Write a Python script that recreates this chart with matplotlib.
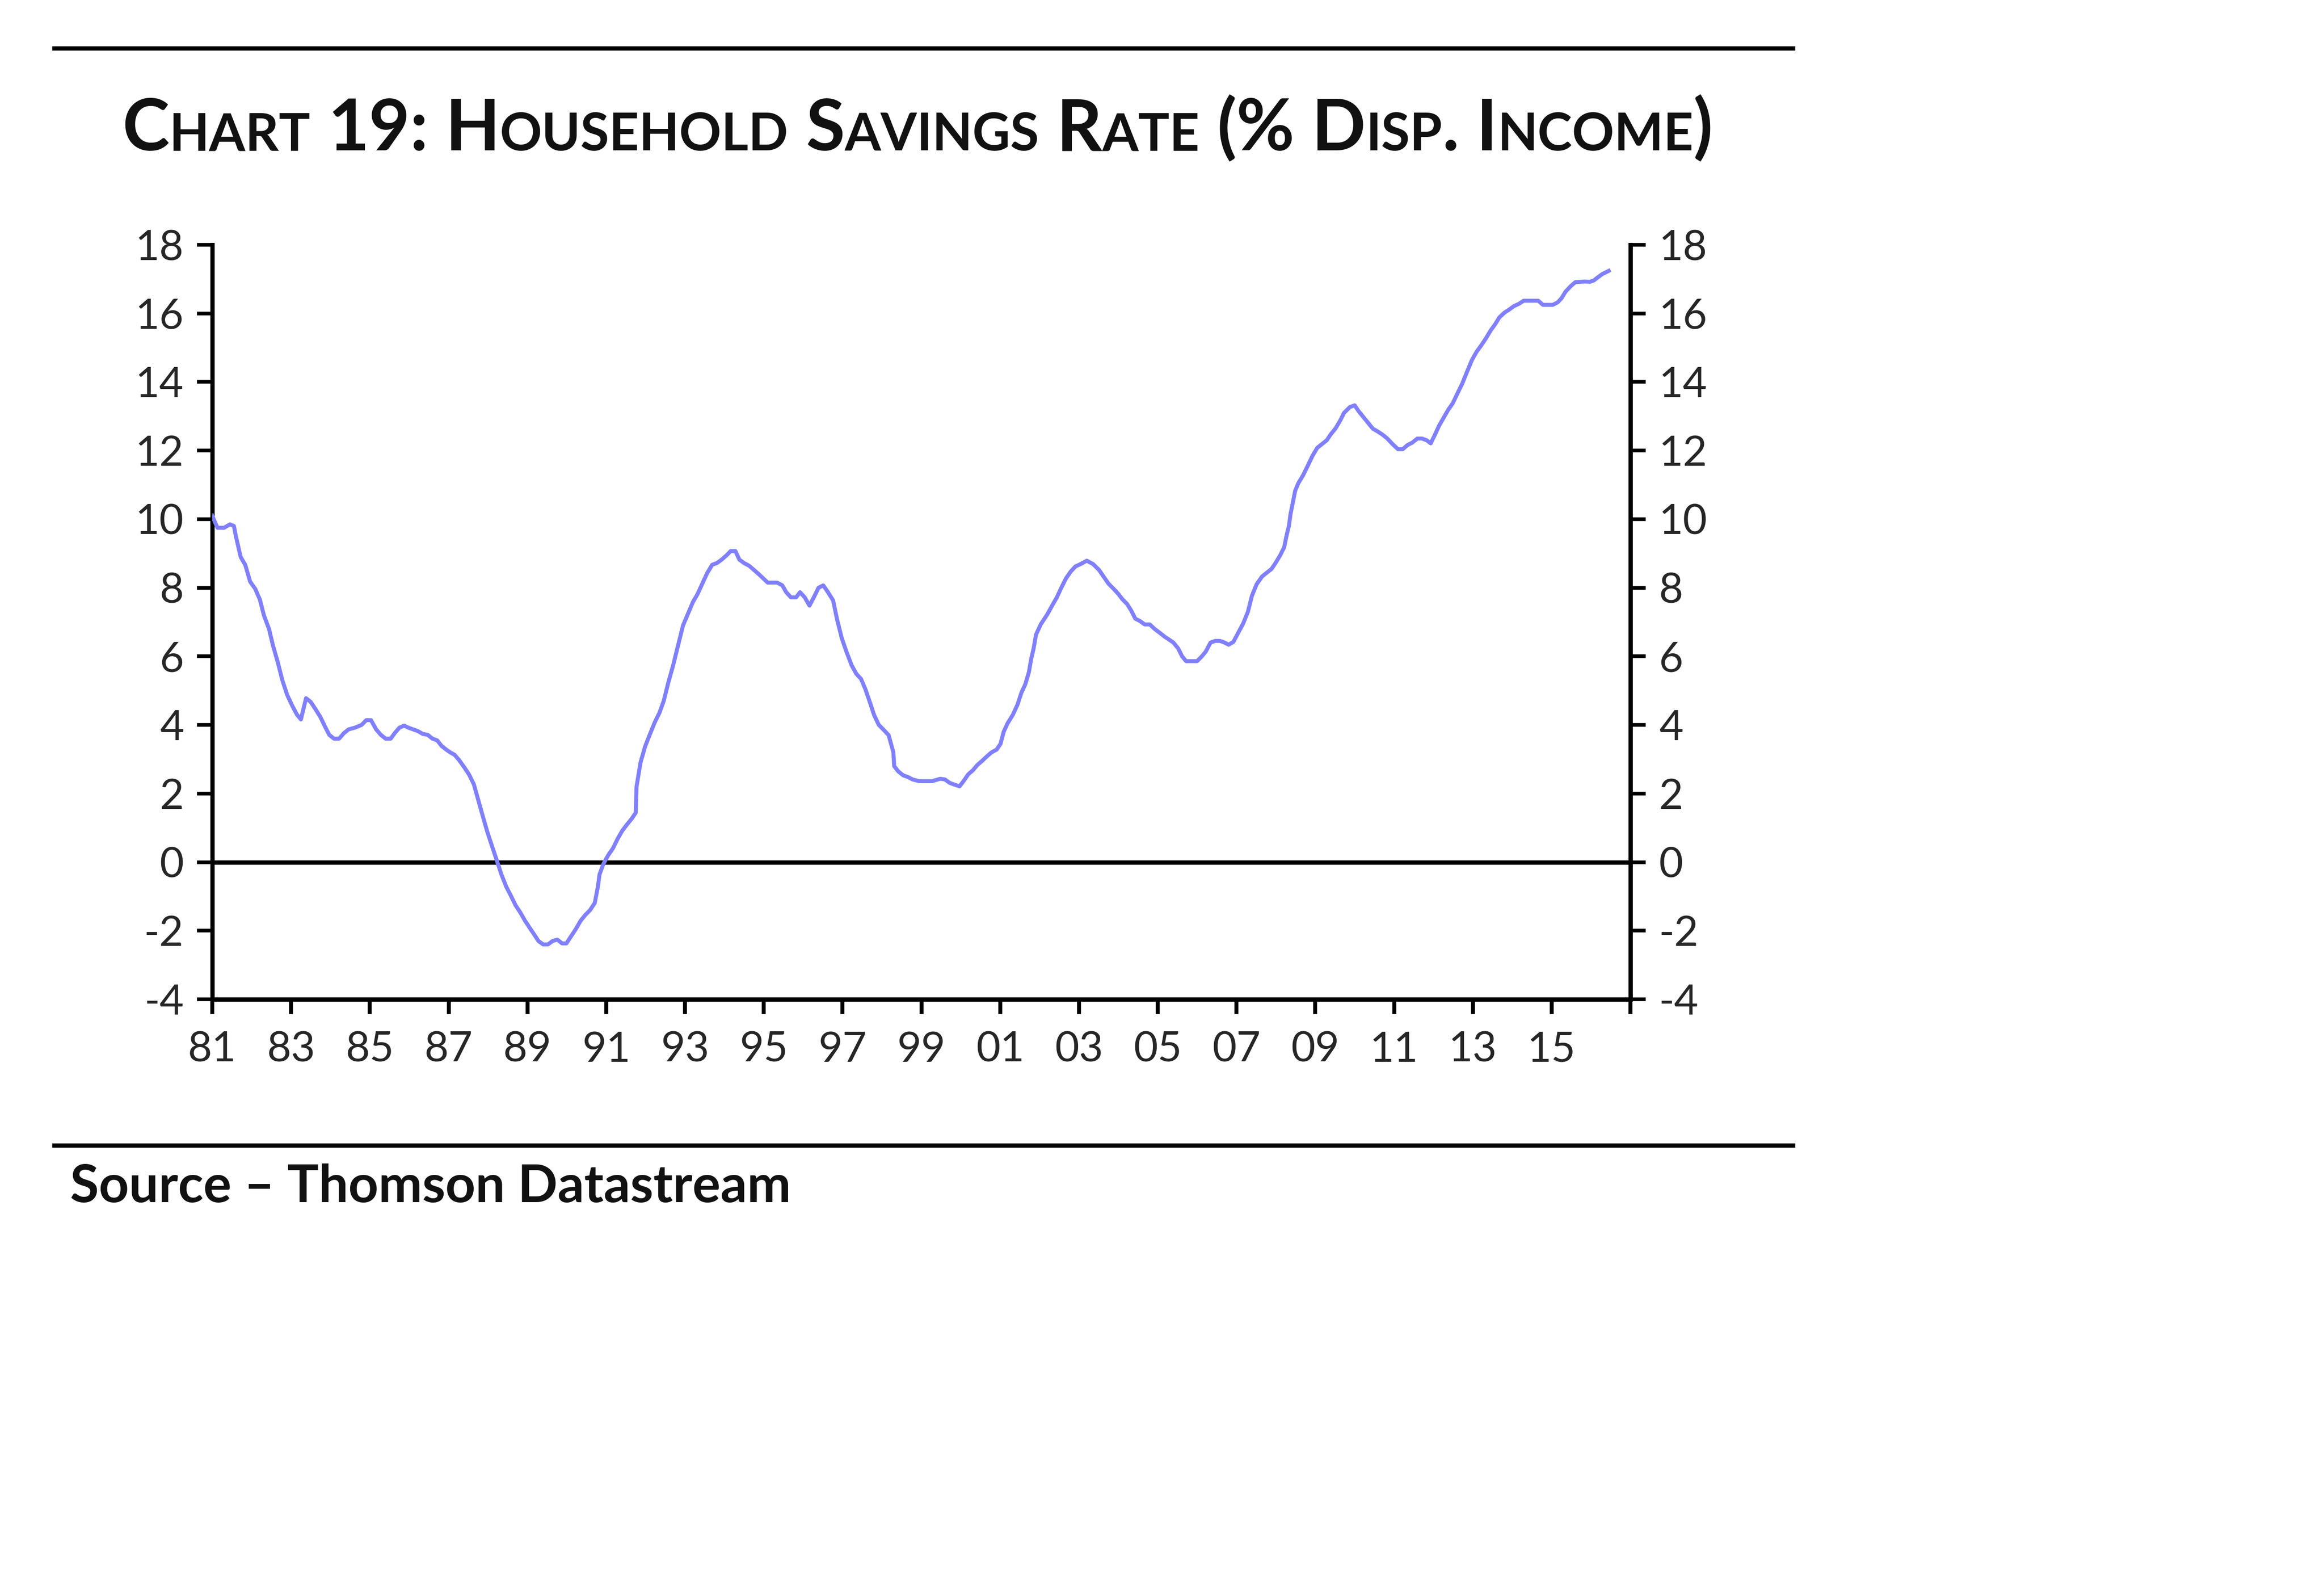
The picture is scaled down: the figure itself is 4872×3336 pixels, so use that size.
import matplotlib
matplotlib.use("Agg")
import matplotlib.pyplot as plt
from matplotlib import font_manager
from matplotlib.lines import Line2D

# ---------------- data ----------------
years = [1981.00, 1981.13, 1981.30, 1981.45, 1981.55, 1981.60, 1981.72, 1981.84, 1981.96,
         1982.09, 1982.21, 1982.31, 1982.44, 1982.54, 1982.66, 1982.78, 1982.90,
         1983.03, 1983.15, 1983.25, 1983.38, 1983.50, 1983.62, 1983.74, 1983.85, 1983.97,
         1984.09, 1984.22, 1984.34, 1984.46, 1984.62, 1984.79, 1984.91,
         1985.03, 1985.16, 1985.28, 1985.40, 1985.53, 1985.63, 1985.75, 1985.87, 1985.98,
         1986.10, 1986.22, 1986.34, 1986.47, 1986.59, 1986.71, 1986.82, 1986.94,
         1987.04, 1987.15, 1987.27, 1987.40, 1987.52, 1987.64, 1987.74, 1987.86, 1987.98,
         1988.10, 1988.22, 1988.34, 1988.46, 1988.58, 1988.70, 1988.82, 1988.94,
         1989.06, 1989.16, 1989.28, 1989.40, 1989.52, 1989.64, 1989.76, 1989.88, 1989.99,
         1990.11, 1990.23, 1990.35, 1990.47, 1990.59, 1990.71, 1990.79, 1990.83, 1990.93,
         1991.05, 1991.17, 1991.29, 1991.41, 1991.53, 1991.65, 1991.75, 1991.77, 1991.87, 1991.99,
         1992.11, 1992.23, 1992.35, 1992.46, 1992.58, 1992.70, 1992.82, 1992.95,
         1993.09, 1993.20, 1993.32, 1993.44, 1993.56, 1993.69, 1993.81, 1993.93,
         1994.05, 1994.16, 1994.28, 1994.38, 1994.50, 1994.63, 1994.75, 1994.87, 1994.99,
         1995.10, 1995.22, 1995.34, 1995.47, 1995.57, 1995.69, 1995.82, 1995.92,
         1996.04, 1996.16, 1996.27, 1996.39, 1996.51, 1996.63, 1996.76, 1996.86, 1996.98,
         1997.10, 1997.23, 1997.35, 1997.47, 1997.58, 1997.70, 1997.80, 1997.92,
         1998.05, 1998.17, 1998.29, 1998.31, 1998.41, 1998.54, 1998.66, 1998.78, 1998.95,
         1999.07, 1999.27, 1999.48, 1999.60, 1999.72, 1999.84, 1999.97,
         2000.07, 2000.19, 2000.31, 2000.42, 2000.54, 2000.66, 2000.78, 2000.91,
         2001.01, 2001.09, 2001.19, 2001.32, 2001.44, 2001.54, 2001.64, 2001.73, 2001.79,
         2001.85, 2001.91, 2002.03, 2002.20, 2002.32, 2002.44, 2002.54, 2002.67, 2002.79, 2002.91,
         2003.04, 2003.20, 2003.36, 2003.51, 2003.63, 2003.75, 2003.88,
         2004.00, 2004.10, 2004.22, 2004.33, 2004.43, 2004.55, 2004.67, 2004.80, 2004.92,
         2005.06, 2005.18, 2005.30, 2005.40, 2005.52, 2005.62, 2005.72, 2005.88,
         2006.00, 2006.12, 2006.22, 2006.34, 2006.46, 2006.58, 2006.70, 2006.80, 2006.92,
         2007.04, 2007.17, 2007.29, 2007.39, 2007.51, 2007.65, 2007.77, 2007.89, 2007.99,
         2008.11, 2008.21, 2008.27, 2008.33, 2008.37, 2008.43, 2008.49, 2008.57, 2008.69,
         2008.81, 2008.93, 2009.05, 2009.17, 2009.29, 2009.39, 2009.51, 2009.63, 2009.73, 2009.88,
         2010.00, 2010.10, 2010.22, 2010.34, 2010.46, 2010.58, 2010.70, 2010.82, 2010.97,
         2011.10, 2011.22, 2011.34, 2011.46, 2011.59, 2011.71, 2011.83, 2011.93,
         2012.04, 2012.14, 2012.26, 2012.38, 2012.49, 2012.61, 2012.73, 2012.86, 2012.98,
         2013.10, 2013.22, 2013.33, 2013.45, 2013.57, 2013.67, 2013.80, 2013.92,
         2014.04, 2014.17, 2014.29, 2014.53, 2014.66, 2014.78,
         2015.03, 2015.15, 2015.25, 2015.35, 2015.48, 2015.60, 2015.84, 2015.97,
         2016.07, 2016.17, 2016.29, 2016.45]

savings_rate = [10.10, 9.75, 9.75, 9.85, 9.80, 9.50, 8.90, 8.66, 8.18,
                7.97, 7.65, 7.20, 6.80, 6.32, 5.84, 5.30, 4.88,
                4.56, 4.30, 4.16, 4.78, 4.67, 4.46, 4.24, 3.98, 3.71,
                3.60, 3.60, 3.76, 3.87, 3.92, 4.00, 4.14,
                4.14, 3.87, 3.71, 3.60, 3.60, 3.76, 3.92, 3.98, 3.92,
                3.87, 3.82, 3.74, 3.71, 3.60, 3.55, 3.39, 3.28,
                3.20, 3.13, 2.97, 2.76, 2.55, 2.27, 1.86, 1.37, 0.89,
                0.47, 0.06, -0.36, -0.71, -0.98, -1.26, -1.47, -1.71,
                -1.92, -2.09, -2.30, -2.40, -2.40, -2.30, -2.26, -2.37, -2.37,
                -2.16, -1.95, -1.71, -1.54, -1.40, -1.19, -0.71, -0.36, -0.05,
                0.20, 0.40, 0.68, 0.92, 1.10, 1.27, 1.44, 2.20, 2.90, 3.38,
                3.73, 4.07, 4.35, 4.70, 5.25, 5.74, 6.30, 6.90,
                7.28, 7.58, 7.82, 8.12, 8.42, 8.67, 8.72, 8.82,
                8.94, 9.07, 9.07, 8.82, 8.72, 8.64, 8.52, 8.40, 8.27,
                8.15, 8.15, 8.15, 8.07, 7.87, 7.72, 7.72, 7.87,
                7.72, 7.48, 7.72, 8.00, 8.07, 7.87, 7.63, 7.08, 6.53,
                6.13, 5.74, 5.49, 5.34, 5.04, 4.64, 4.29, 4.00,
                3.85, 3.70, 3.20, 2.80, 2.65, 2.53, 2.48, 2.41, 2.36,
                2.36, 2.36, 2.43, 2.41, 2.31, 2.26, 2.21,
                2.36, 2.56, 2.68, 2.83, 2.95, 3.08, 3.20, 3.28,
                3.45, 3.80, 4.05, 4.29, 4.59, 4.94, 5.19, 5.54, 5.93,
                6.23, 6.63, 6.93, 7.23, 7.48, 7.72, 7.97, 8.27, 8.47, 8.62,
                8.69, 8.79, 8.69, 8.52, 8.32, 8.12, 7.97,
                7.82, 7.67, 7.53, 7.33, 7.10, 7.03, 6.93, 6.93, 6.80,
                6.68, 6.57, 6.48, 6.40, 6.23, 6.00, 5.86, 5.86,
                5.86, 6.00, 6.14, 6.40, 6.45, 6.45, 6.40, 6.34, 6.42,
                6.68, 6.96, 7.30, 7.76, 8.10, 8.33, 8.44, 8.55, 8.72,
                8.95, 9.18, 9.52, 9.80, 10.14, 10.48, 10.83, 11.05, 11.28,
                11.56, 11.85, 12.08, 12.19, 12.30, 12.47, 12.64, 12.87, 13.10, 13.27,
                13.32, 13.15, 12.98, 12.81, 12.64, 12.56, 12.47, 12.36, 12.18,
                12.04, 12.04, 12.16, 12.23, 12.35, 12.35, 12.30, 12.21,
                12.47, 12.72, 12.96, 13.20, 13.38, 13.67, 13.95, 14.32, 14.65,
                14.89, 15.08, 15.27, 15.50, 15.69, 15.88, 16.02, 16.11,
                16.21, 16.28, 16.37, 16.37, 16.37, 16.25,
                16.25, 16.32, 16.44, 16.63, 16.79, 16.91, 16.93, 16.92,
                16.96, 17.05, 17.15, 17.24]

y_ticks = [-4, -2, 0, 2, 4, 6, 8, 10, 12, 14, 16, 18]
x_ticks = [1981, 1983, 1985, 1987, 1989, 1991, 1993, 1995, 1997, 1999,
           2001, 2003, 2005, 2007, 2009, 2011, 2013, 2015, 2017]
x_tick_labels = ["81", "83", "85", "87", "89", "91", "93", "95", "97", "99",
                 "01", "03", "05", "07", "09", "11", "13", "15", ""]

title_text = "Chart 19: Household Savings Rate (% Disp. Income)"
source_text = "Source \u2013 Thomson Datastream"

# ---------------- styling ----------------
avail = {f.name for f in font_manager.fontManager.ttflist}
FONT = "Lato" if "Lato" in avail else "DejaVu Sans"
plt.rcParams["font.family"] = [FONT, "DejaVu Sans"]

W, H = 4872, 3336
fig = plt.figure(figsize=(W / 100, H / 100), dpi=100)
fig.patch.set_facecolor("white")

ax = fig.add_axes([445 / W, 1 - 2094 / H, (3418 - 445) / W, (2094 - 513) / H])
ax.plot(years, savings_rate, color="#8080ff", lw=6, solid_joinstyle="round", zorder=3)
ax.axhline(0, color="black", lw=6.5, zorder=2)

ax.set_xlim(1981, 2017)
ax.set_ylim(-4, 18)
ax.set_xticks(x_ticks)
ax.set_xticklabels(x_tick_labels)
ax.set_yticks(y_ticks)
ax.set_yticklabels([str(v) for v in y_ticks])

for side in ["left", "right", "bottom"]:
    ax.spines[side].set_linewidth(6.5)
    ax.spines[side].set_color("black")
ax.spines["top"].set_visible(False)

label_color = "#262626"
ax.tick_params(axis="y", which="major", direction="out", length=23, width=5.5,
               left=True, right=True, labelleft=True, labelright=True,
               labelsize=63, labelcolor=label_color, pad=20)
ax.tick_params(axis="x", direction="out", length=22, width=6, labelsize=63,
               labelcolor=label_color, pad=26)
ax.set_facecolor("white")

# ---------------- rules ----------------
for yy in (101, 2400):
    fig.add_artist(Line2D([109 / W, 3763 / W], [1 - yy / H, 1 - yy / H],
                          color="black", lw=6.5, solid_capstyle="butt"))

# ---------------- small-caps title ----------------
renderer = fig.canvas.get_renderer()


def measure(s, size):
    t = fig.text(0, 0, s, fontsize=size, fontweight="bold")
    w = t.get_window_extent(renderer).width
    t.remove()
    return w


def runs_of(word):
    out = []
    for ch in word:
        big = not ch.islower()
        if out and out[-1][1] == big:
            out[-1][0] += ch
        else:
            out.append([ch, big])
    return out


def layout_title(text, big, small, x0, y0, draw):
    x = x0
    space = measure("H H", big) - measure("HH", big)
    words = text.split(" ")
    for i, word in enumerate(words):
        for s, isbig in runs_of(word):
            size = big if isbig else small
            s_up = s.upper()
            if draw:
                fig.text(x / W, 1 - y0 / H, s_up, fontsize=size, fontweight="bold",
                         color="#111111", ha="left", va="baseline")
            x += measure(s_up, size)
        if i < len(words) - 1:
            x += space
    return x - x0


BIG, SMALL = 102, 75
natural = layout_title(title_text, BIG, SMALL, 256, 315, draw=False)
scale = (3590 - 256) / natural
layout_title(title_text, BIG * scale, SMALL * scale, 256, 315, draw=True)

# ---------------- source ----------------
src = fig.text(147 / W, 1 - 2519 / H, source_text, fontsize=75, fontweight="bold",
               color="#111111", ha="left", va="baseline")
sw = src.get_window_extent(renderer).width
src.set_fontsize(75 * (1658 - 147) / sw)

fig.savefig("out.png", dpi=100, facecolor="white")
